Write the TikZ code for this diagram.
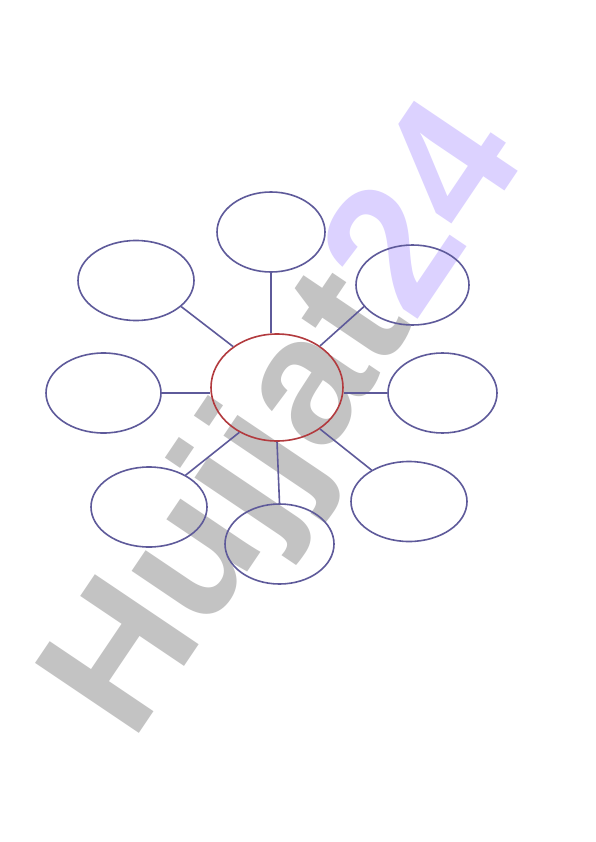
\documentclass[tikz,border=0pt]{standalone}
\usepackage{fontspec}
\setmainfont{Liberation Sans}
\usetikzlibrary{shapes.geometric}
\definecolor{bub}{HTML}{5E5A9A}
\definecolor{hub}{HTML}{B23A3E}
\definecolor{wmgray}{HTML}{C3C3C3}
\definecolor{wmlav}{HTML}{DCD2FF}
\tikzset{
  bubble/.style={ellipse, draw=bub, line width=1.6pt, minimum width=#1, minimum height=80pt, inner sep=0pt},
  hubble/.style={ellipse, draw=hub, line width=1.6pt, minimum width=132pt, minimum height=107pt, inner sep=0pt},
  link/.style={draw=bub, line width=1.6pt},
  wm/.style={font=\fontsize{182}{182}\selectfont\bfseries, inner sep=0pt, rotate=56, anchor=base west}
}
\begin{document}
\begin{tikzpicture}[x=1pt,y=-1pt]
\useasboundingbox (0,0) rectangle (596,842);
\fill[white] (0,0) rectangle (596,842);
% watermark
\node[wm] (wmk) at (132,744) {\textcolor{wmgray}{Hujjat}\textcolor{wmlav}{24}};
% bubbles
\node[hubble] (c) at (277,387.5) {};
\node[bubble=108pt] (t) at (271,232) {};
\node[bubble=116pt] (ul) at (136,280.5) {};
\node[bubble=113pt] (ur) at (412.5,285) {};
\node[bubble=115pt] (l) at (103.5,393) {};
\node[bubble=109pt] (r) at (442.5,393) {};
\node[bubble=116pt] (ll) at (149,507) {};
\node[bubble=109pt] (b) at (279.5,544) {};
\node[bubble=116pt] (lr) at (409,501.5) {};
% links
\draw[link] (t.south) -- (t.south |- c.north);
\draw[link] (ul.-30) -- (c.137);
\draw[link] (ur.-156) -- (c.44);
\draw[link] (l.east) -- (l.east -| c.west);
\draw[link] (r.west) -- (r.west -| c.east);
\draw[link] (ll.41) -- (c.230);
\draw[link] (b.north) -- (c.south);
\draw[link] (lr.140) -- (c.-44);
\end{tikzpicture}
\end{document}
